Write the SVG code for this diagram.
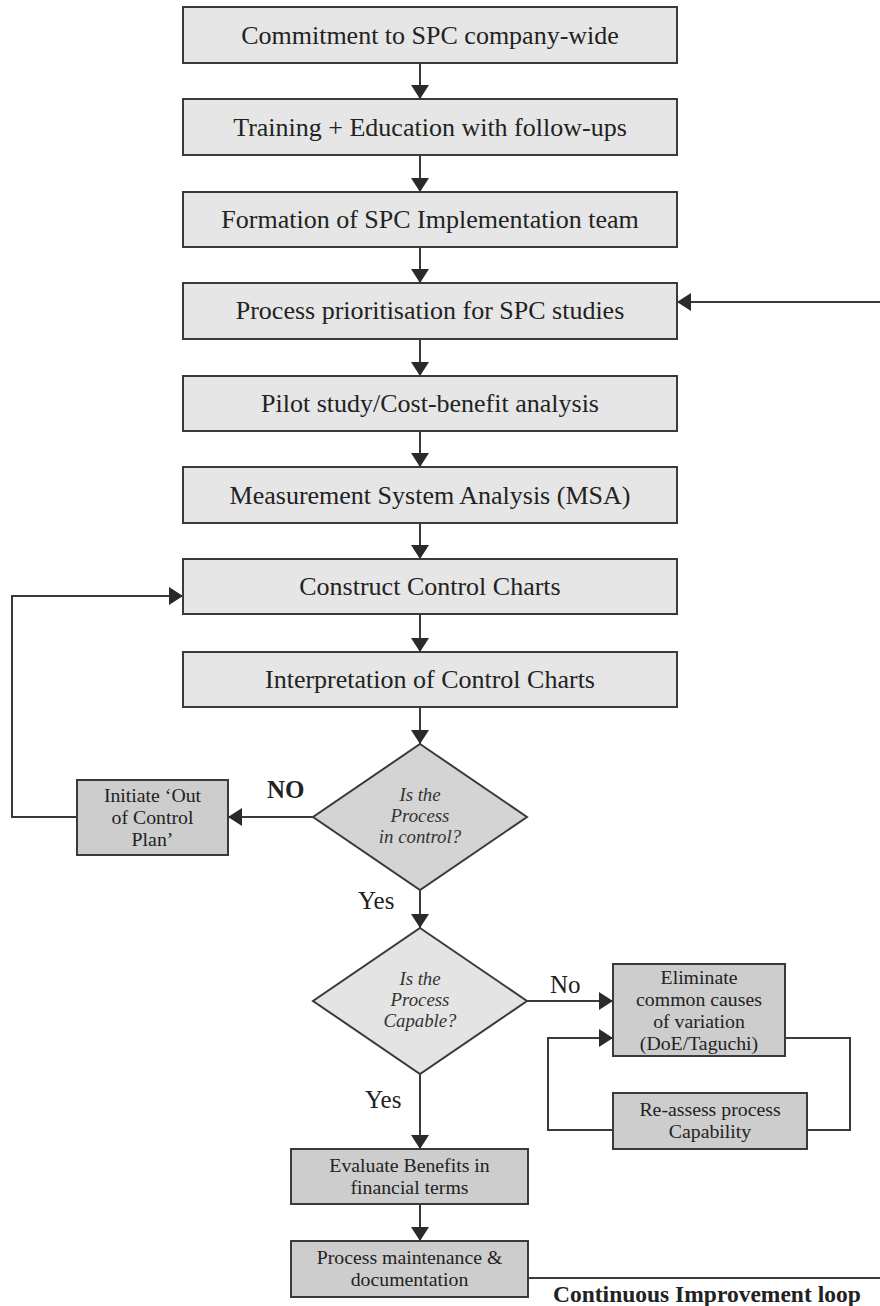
<svg xmlns="http://www.w3.org/2000/svg" width="880" height="1306" viewBox="0 0 880 1306">
<defs>
<style>
.main{fill:#e6e6e6;stroke:#3a3a3a;stroke-width:2}
.dark{fill:#cdcdcd;stroke:#3a3a3a;stroke-width:2}
.dia1{fill:#d4d4d4;stroke:#3a3a3a;stroke-width:2}
.dia2{fill:#e4e4e4;stroke:#3a3a3a;stroke-width:2}
.t{font-family:"Liberation Serif","Times New Roman",serif;fill:#222;text-anchor:middle}
.big{font-size:26px}
.sm{font-size:19.8px}
.it{font-size:18.8px;font-style:italic;fill:#333}
.lbl{font-family:"Liberation Serif","Times New Roman",serif;fill:#222;font-size:25px}
.bold{font-weight:bold}
.c{fill:none;stroke:#3a3a3a;stroke-width:2}
</style>
<marker id="ah" markerUnits="userSpaceOnUse" markerWidth="18" markerHeight="18" viewBox="0 0 14 18" refX="14" refY="9" orient="auto">
<path d="M0,0 L14,9 L0,18 Z" fill="#2a2a2a"/>
</marker>
</defs>
<rect width="880" height="1306" fill="#fff"/>
<g id="connectors">
<line class="c" x1="420" y1="63" x2="420" y2="99" marker-end="url(#ah)"/>
<line class="c" x1="420" y1="155" x2="420" y2="192" marker-end="url(#ah)"/>
<line class="c" x1="420" y1="247" x2="420" y2="283" marker-end="url(#ah)"/>
<line class="c" x1="420" y1="339" x2="420" y2="376" marker-end="url(#ah)"/>
<line class="c" x1="420" y1="431" x2="420" y2="467" marker-end="url(#ah)"/>
<line class="c" x1="420" y1="523" x2="420" y2="559" marker-end="url(#ah)"/>
<line class="c" x1="420" y1="614" x2="420" y2="652" marker-end="url(#ah)"/>
<line class="c" x1="420" y1="707" x2="420" y2="744" marker-end="url(#ah)"/>
<line class="c" x1="880" y1="302" x2="677" y2="302" marker-end="url(#ah)"/>
<line class="c" x1="313" y1="817" x2="228" y2="817" marker-end="url(#ah)"/>
<polyline class="c" points="77,817 12,817 12,596 183,596" marker-end="url(#ah)"/>
<line class="c" x1="420" y1="890" x2="420" y2="928" marker-end="url(#ah)"/>
<line class="c" x1="527" y1="1001" x2="613" y2="1001" marker-end="url(#ah)"/>
<polyline class="c" points="785,1038 850,1038 850,1130 807,1130"/>
<polyline class="c" points="613,1130 548,1130 548,1038 613,1038" marker-end="url(#ah)"/>
<line class="c" x1="420" y1="1074" x2="420" y2="1149" marker-end="url(#ah)"/>
<line class="c" x1="420" y1="1204" x2="420" y2="1241" marker-end="url(#ah)"/>
<line class="c" x1="528" y1="1278" x2="880" y2="1278"/>
<text class="lbl bold" x="267" y="798" font-size="22">NO</text>
<text class="lbl" x="358" y="909">Yes</text>
<text class="lbl" x="550" y="993">No</text>
<text class="lbl" x="365" y="1108">Yes</text>
<text class="lbl bold" x="553" y="1302" style="font-size:23.5px">Continuous Improvement loop</text>
</g>
<g id="n1"><rect class="main" x="183" y="7" width="494" height="56"/><text class="t big" x="430" y="44">Commitment to SPC company-wide</text></g>
<g id="n2"><rect class="main" x="183" y="99" width="494" height="56"/><text class="t big" x="430" y="136">Training + Education with follow-ups</text></g>
<g id="n3"><rect class="main" x="183" y="192" width="494" height="55"/><text class="t big" x="430" y="228">Formation of SPC Implementation team</text></g>
<g id="n4"><rect class="main" x="183" y="283" width="494" height="56"/><text class="t big" x="430" y="319">Process prioritisation for SPC studies</text></g>
<g id="n5"><rect class="main" x="183" y="376" width="494" height="55"/><text class="t big" x="430" y="412">Pilot study/Cost-benefit analysis</text></g>
<g id="n6"><rect class="main" x="183" y="467" width="494" height="56"/><text class="t big" x="430" y="504">Measurement System Analysis (MSA)</text></g>
<g id="n7"><rect class="main" x="183" y="559" width="494" height="55"/><text class="t big" x="430" y="595">Construct Control Charts</text></g>
<g id="n8"><rect class="main" x="183" y="652" width="494" height="55"/><text class="t big" x="430" y="688">Interpretation of Control Charts</text></g>
<g id="d1"><polygon class="dia1" points="420,744 527,817 420,890 313,817"/>
<text class="t it" x="420" y="801">Is the</text><text class="t it" x="420" y="822">Process</text><text class="t it" x="420" y="843">in control?</text></g>
<g id="n9"><rect class="dark" x="77" y="780" width="151" height="75"/>
<text class="t sm" x="152.5" y="802">Initiate ‘Out</text><text class="t sm" x="152.5" y="824">of Control</text><text class="t sm" x="152.5" y="846">Plan’</text></g>
<g id="d2"><polygon class="dia2" points="420,928 527,1001 420,1074 313,1001"/>
<text class="t it" x="420" y="985">Is the</text><text class="t it" x="420" y="1006">Process</text><text class="t it" x="420" y="1027">Capable?</text></g>
<g id="n10"><rect class="dark" x="613" y="964" width="172" height="92"/>
<text class="t sm" x="699" y="984">Eliminate</text><text class="t sm" x="699" y="1006">common causes</text><text class="t sm" x="699" y="1028">of variation</text><text class="t sm" x="699" y="1050">(DoE/Taguchi)</text></g>
<g id="n11"><rect class="dark" x="613" y="1093" width="194" height="56"/>
<text class="t sm" x="710" y="1116">Re-assess process</text><text class="t sm" x="710" y="1138">Capability</text></g>
<g id="n12"><rect class="dark" x="291" y="1149" width="237" height="55"/>
<text class="t sm" x="409.5" y="1172">Evaluate Benefits in</text><text class="t sm" x="409.5" y="1194">financial terms</text></g>
<g id="n13"><rect class="dark" x="291" y="1241" width="237" height="56"/>
<text class="t sm" x="409.5" y="1264">Process maintenance &amp;</text><text class="t sm" x="409.5" y="1286">documentation</text></g>
</svg>
